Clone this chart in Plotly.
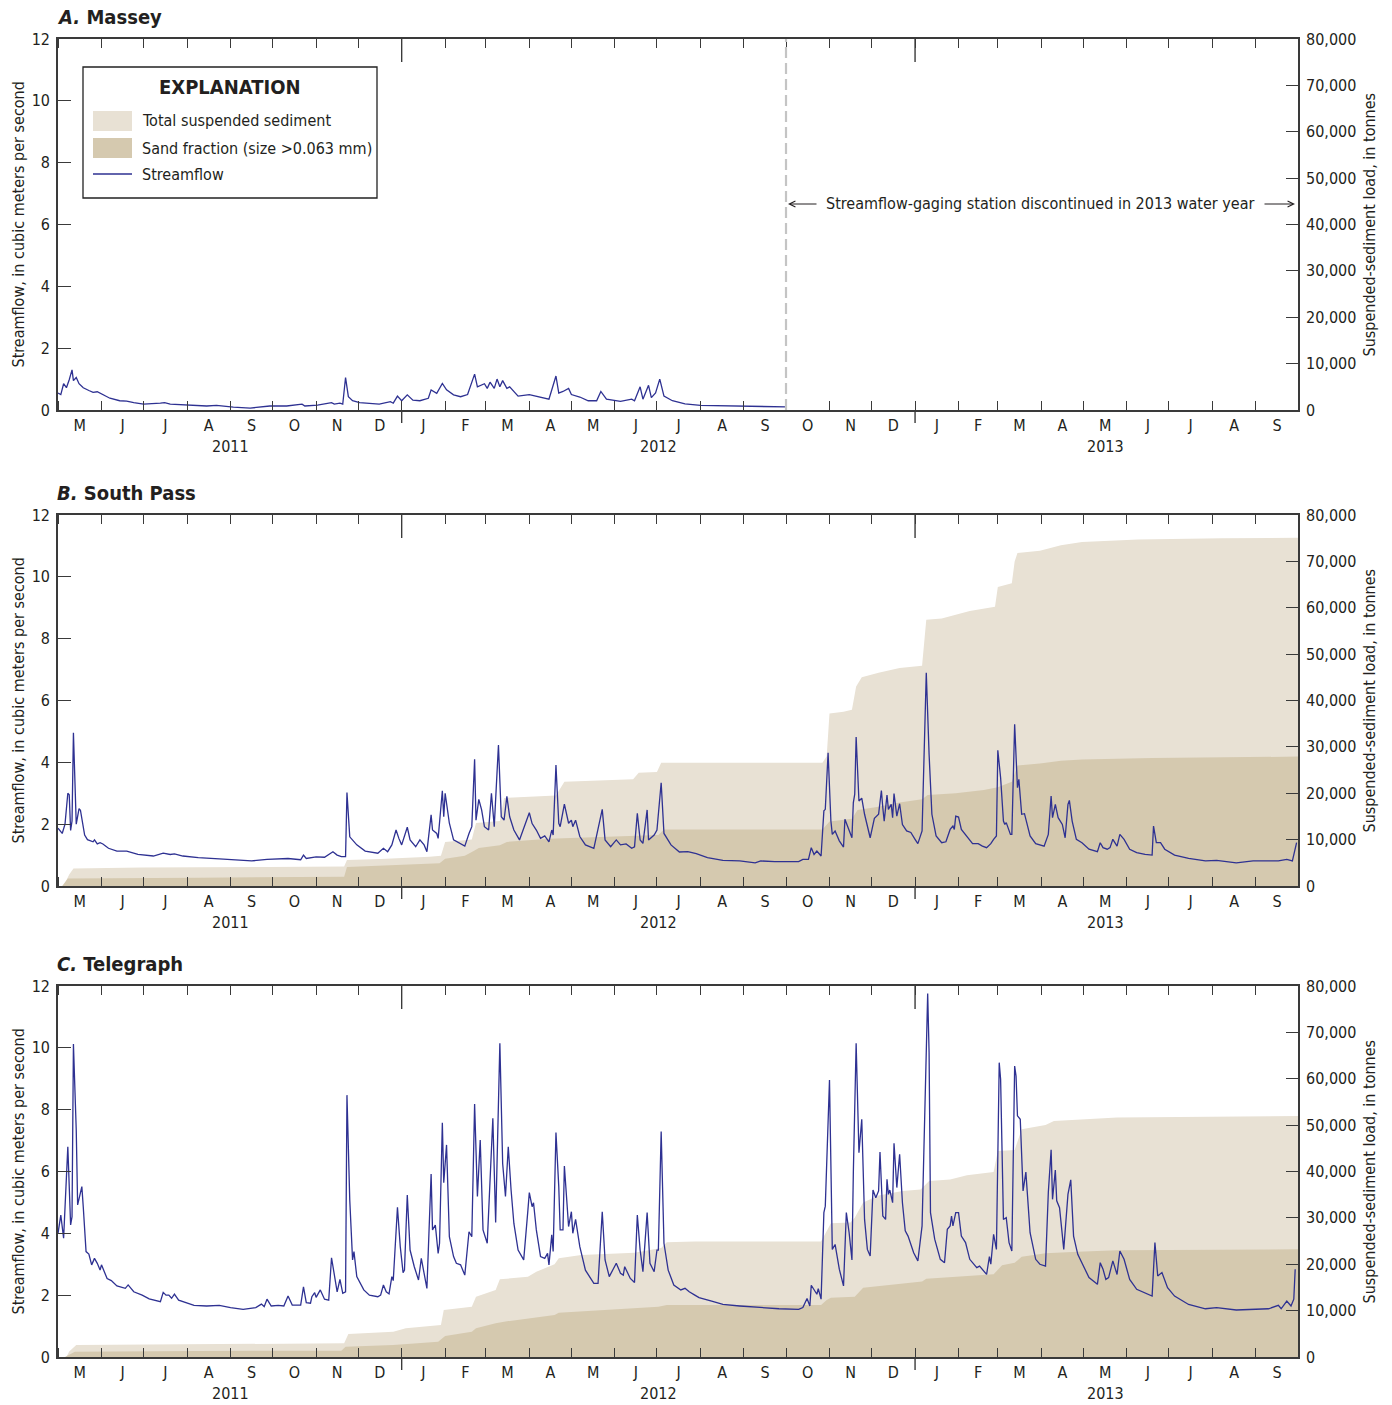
import pandas as pd
import plotly.graph_objects as go

# ---------------- data (days since 2011-05-01) ----------------
START = pd.Timestamp("2011-05-01")
X_RANGE = ["2011-05-01", "2013-10-01"]

month_letters = ["M", "J", "J", "A", "S", "O", "N", "D",
                 "J", "F", "M", "A", "M", "J", "J", "A", "S", "O", "N", "D",
                 "J", "F", "M", "A", "M", "J", "J", "A", "S"]
year_labels = ["2011", "2012", "2013"]
year_label_dates = ["2011-09-01", "2012-07-02", "2013-05-17"]
year_tick_dates = ["2012-01-01", "2013-01-01"]

flow_ticks = [0, 2, 4, 6, 8, 10, 12]
sed_ticks = [0, 10000, 20000, 30000, 40000, 50000, 60000, 70000, 80000]
sed_tick_text = ["0", "10,000", "20,000", "30,000", "40,000", "50,000", "60,000", "70,000", "80,000"]

# A. Massey streamflow (m3/s)
massey_day = [0, 2, 4, 6, 8, 10, 11, 13, 15, 18,
              22, 25, 28, 32, 37, 44, 49, 54, 61, 73,
              76, 80, 92, 106, 113, 125, 137, 146, 151, 163,
              174, 176, 185, 195, 197, 201, 203, 205, 207, 210,
              215, 229, 237, 239, 242, 245, 249, 253, 258, 264,
              266, 270, 274, 277, 282, 287, 292, 297, 299, 304,
              306, 308, 311, 313, 315, 317, 320, 322, 328, 336,
              344, 350, 355, 357, 360, 364, 366, 372, 378, 384,
              387, 391, 401, 409, 411, 415, 417, 421, 423, 426,
              429, 432, 438, 447, 458, 486, 519]
massey_q = [0.55, 0.50, 0.85, 0.72, 0.98, 1.30, 0.95, 1.05, 0.85, 0.72,
            0.63, 0.57, 0.59, 0.49, 0.38, 0.30, 0.29, 0.24, 0.19, 0.22,
            0.24, 0.19, 0.16, 0.13, 0.15, 0.09, 0.06, 0.11, 0.13, 0.13,
            0.19, 0.13, 0.16, 0.24, 0.19, 0.22, 0.19, 1.05, 0.43, 0.30,
            0.24, 0.19, 0.27, 0.22, 0.45, 0.30, 0.49, 0.32, 0.30, 0.38,
            0.65, 0.54, 0.86, 0.65, 0.49, 0.43, 0.50, 1.16, 0.75, 0.85,
            0.70, 0.90, 0.70, 1.00, 0.75, 0.95, 0.70, 0.75, 0.45, 0.50,
            0.42, 0.35, 1.10, 0.55, 0.60, 0.70, 0.50, 0.42, 0.30, 0.30,
            0.60, 0.35, 0.28, 0.35, 0.30, 0.75, 0.35, 0.80, 0.40, 0.55,
            1.00, 0.45, 0.30, 0.20, 0.15, 0.12, 0.10]

# B. South Pass streamflow
south_day = [0, 3, 5, 7, 8, 9, 10, 11, 13, 15,
             16, 19, 21, 25, 26, 28, 30, 32, 36, 42,
             49, 57, 68, 75, 80, 83, 89, 100, 115, 123,
             138, 149, 164, 173, 175, 177, 184, 190, 196, 199,
             202, 205, 206, 208, 210, 213, 219, 228, 232, 235,
             238, 241, 243, 245, 249, 251, 255, 258, 261, 263,
             266, 267, 270, 271, 274, 275, 276, 279, 282, 286,
             290, 293, 295, 297, 298, 300, 302, 304, 307, 309,
             311, 314, 316, 318, 320, 322, 325, 329, 334, 336,
             338, 341, 344, 347, 350, 352, 353, 355, 357, 358,
             361, 364, 366, 367, 369, 372, 376, 382, 388, 390,
             394, 398, 401, 405, 409, 411, 413, 415, 417, 420,
             421, 425, 427, 430, 432, 437, 443, 449, 455, 463,
             474, 486, 497, 501, 511, 528, 531, 535, 537, 539,
             541, 544, 546, 547, 549, 551, 552, 554, 557, 560,
             561, 564, 566, 567, 568, 569, 571, 573, 575, 579,
             582, 585, 587, 588, 589, 591, 592, 594, 595, 596,
             598, 600, 602, 605, 608, 611, 613, 616, 617, 619,
             621, 623, 626, 630, 633, 636, 638, 639, 640, 642,
             644, 647, 652, 656, 659, 662, 665, 667, 669, 670,
             672, 674, 675, 676, 679, 680, 682, 684, 685, 687,
             689, 693, 697, 703, 706, 708, 709, 711, 713, 716,
             718, 720, 721, 723, 726, 730, 735, 741, 743, 745,
             748, 750, 752, 755, 757, 760, 764, 769, 775, 780,
             781, 783, 786, 789, 796, 806, 818, 826, 840, 852,
             863, 870, 876, 880, 883]
south_q = [1.87, 1.70, 2.0, 3.0, 2.95, 1.8, 2.1, 4.96, 2.0, 2.5,
           2.45, 1.65, 1.5, 1.43, 1.49, 1.36, 1.4, 1.36, 1.22, 1.13,
           1.13, 1.02, 0.97, 1.06, 1.02, 1.04, 0.97, 0.92, 0.88, 0.86,
           0.81, 0.86, 0.89, 0.85, 1.0, 0.89, 0.94, 0.93, 1.11, 1.0,
           0.95, 0.95, 3.02, 1.59, 1.49, 1.33, 1.13, 1.06, 1.22, 1.11,
           1.33, 1.81, 1.54, 1.33, 1.9, 1.49, 1.27, 1.49, 1.33, 1.11,
           2.3, 1.81, 1.7, 1.54, 3.08, 2.24, 3.0, 2.03, 1.49, 1.38,
           1.29, 1.7, 1.92, 4.1, 2.13, 2.8, 2.46, 1.92, 1.81, 3.0,
           1.92, 4.56, 2.24, 2.13, 2.9, 2.24, 1.81, 1.49, 2.13, 2.37,
           2.02, 1.81, 1.54, 1.62, 1.43, 1.81, 1.65, 3.91, 2.03, 1.92,
           2.65, 2.03, 2.13, 1.92, 2.13, 1.6, 1.33, 1.22, 2.48, 1.49,
           1.27, 1.49, 1.33, 1.36, 1.22, 1.27, 2.35, 1.49, 1.38, 2.46,
           1.49, 1.65, 1.81, 3.34, 1.7, 1.33, 1.1, 1.11, 1.05, 0.92,
           0.83, 0.81, 0.75, 0.81, 0.79, 0.79, 0.86, 0.86, 1.24, 1.02,
           1.13, 0.97, 2.43, 2.48, 4.31, 2.1, 1.67, 1.78, 1.46, 1.26,
           2.16, 1.78, 1.56, 2.7, 2.97, 4.82, 2.75, 2.84, 2.32, 1.56,
           2.19, 2.32, 3.09, 2.53, 2.1, 2.94, 2.48, 2.64, 2.21, 2.99,
           2.26, 2.66, 1.99, 1.78, 1.73, 1.51, 1.37, 1.78, 3.83, 6.9,
           4.26, 2.32, 1.62, 1.4, 1.43, 1.83, 1.94, 1.83, 2.26, 2.23,
           1.83, 1.67, 1.37, 1.37, 1.29, 1.24, 1.37, 1.51, 1.62, 4.39,
           3.5, 2.1, 1.99, 2.05, 1.67, 1.67, 5.23, 3.18, 3.45, 2.32,
           2.34, 1.62, 1.37, 1.29, 1.67, 2.91, 2.21, 2.64, 2.21, 1.99,
           1.56, 2.64, 2.77, 2.1, 1.51, 1.4, 1.19, 1.11, 1.4, 1.24,
           1.19, 1.24, 1.51, 1.29, 1.67, 1.51, 1.19, 1.08, 1.02, 1.0,
           1.94, 1.4, 1.4, 1.19, 1.0, 0.89, 0.81, 0.83, 0.75, 0.81,
           0.81, 0.81, 0.86, 0.81, 1.4]

# B. South Pass cumulative suspended-sediment load (tonnes)
south_total_day = [4, 8, 11, 60, 150, 204, 206, 230, 265, 273,
                   276, 295, 298, 315, 318, 355, 361, 410, 414, 427,
                   430, 545, 548, 550, 560, 566, 569, 573, 585, 600,
                   616, 619, 630, 640, 650, 668, 670, 680, 682, 684,
                   700, 715, 730, 770, 830, 884]
south_total = [0, 2500, 3800, 4000, 4100, 4200, 5600, 5800, 6300, 6500,
               9500, 10000, 13600, 14000, 19000, 19500, 22500, 23000, 24400, 24600,
               26600, 26600, 28000, 37200, 37600, 38000, 43000, 45000, 46000, 47000,
               47500, 57400, 57700, 58500, 59300, 60200, 64500, 65300, 70000, 71800,
               72300, 73500, 74200, 74700, 75000, 75100]
south_sand_day = [3, 7, 100, 204, 206, 240, 272, 276, 290, 296,
                  300, 315, 320, 350, 385, 428, 432, 545, 550, 566,
                  570, 585, 600, 616, 620, 640, 660, 670, 680, 684,
                  700, 715, 730, 780, 884]
south_sand = [0, 1600, 1800, 2000, 4100, 4500, 4900, 5900, 6500, 7500,
              8200, 8800, 9500, 10200, 10600, 11000, 12200, 12200, 13900, 14500,
              16400, 17100, 18000, 18700, 19600, 20000, 20700, 21300, 22500, 26000,
              26400, 27000, 27300, 27600, 27900]

# C. Telegraph streamflow
tele_day = [0, 2, 4, 7, 9, 10, 11, 13, 14, 17,
            18, 19, 20, 22, 24, 26, 28, 30, 31, 35,
            38, 42, 48, 50, 54, 60, 65, 73, 75, 77,
            79, 81, 83, 86, 91, 97, 106, 115, 123, 132,
            141, 145, 147, 149, 152, 157, 161, 164, 167, 173,
            175, 177, 180, 181, 183, 184, 187, 190, 193, 195,
            199, 201, 203, 205, 206, 208, 210, 211, 213, 218,
            222, 228, 230, 232, 234, 236, 238, 239, 242, 244,
            246, 247, 249, 251, 254, 257, 259, 261, 263, 266,
            267, 269, 271, 272, 274, 275, 277, 279, 282, 284,
            287, 290, 293, 295, 297, 299, 301, 303, 306, 310,
            312, 315, 317, 319, 321, 323, 325, 328, 332, 335,
            336, 338, 339, 341, 344, 347, 349, 350, 352, 353,
            355, 357, 358, 360, 361, 364, 366, 367, 369, 372,
            376, 382, 385, 388, 390, 393, 398, 401, 403, 404,
            408, 411, 413, 415, 417, 420, 422, 425, 427, 428,
            430, 432, 435, 439, 444, 447, 450, 454, 457, 466,
            474, 486, 500, 514, 528, 531, 534, 536, 537, 539,
            541, 542, 544, 546, 547, 550, 552, 554, 557, 560,
            562, 564, 566, 567, 569, 571, 573, 575, 577, 579,
            581, 583, 585, 586, 588, 590, 591, 592, 593, 595,
            596, 598, 600, 602, 604, 606, 610, 613, 616, 620,
            621, 622, 625, 629, 632, 634, 636, 637, 638, 640,
            642, 644, 647, 650, 655, 657, 662, 664, 665, 667,
            669, 671, 672, 674, 676, 678, 680, 682, 683, 684,
            686, 688, 690, 693, 697, 700, 704, 706, 708, 709,
            711, 712, 714, 717, 720, 722, 724, 727, 731, 735,
            741, 743, 745, 747, 749, 752, 755, 757, 760, 764,
            769, 775, 780, 782, 784, 787, 791, 796, 806, 818,
            826, 840, 852, 863, 870, 872, 876, 879, 881, 882]
tele_q = [4.0, 4.59, 3.84, 6.8, 4.27, 4.54, 10.12, 7.34, 4.92, 5.51,
          4.86, 4.0, 3.41, 3.33, 2.98, 3.19, 3.03, 2.81, 2.98, 2.54,
          2.47, 2.3, 2.22, 2.33, 2.11, 2.0, 1.88, 1.79, 2.09, 2.0,
          2.0, 1.9, 2.03, 1.84, 1.76, 1.67, 1.65, 1.67, 1.6, 1.54,
          1.6, 1.71, 1.63, 1.87, 1.65, 1.67, 1.65, 1.97, 1.68, 1.68,
          2.27, 1.76, 1.74, 1.95, 2.08, 1.93, 2.17, 1.87, 1.84, 3.21,
          2.11, 2.51, 2.06, 2.11, 8.47, 5.08, 3.14, 3.41, 2.6, 2.17,
          2.0, 1.95, 2.0, 2.33, 2.11, 2.04, 2.6, 2.47, 4.84, 3.57,
          2.73, 2.81, 5.24, 3.46, 2.92, 2.49, 3.19, 2.71, 2.22, 5.92,
          4.11, 4.27, 3.35, 3.68, 7.58, 5.64, 6.86, 3.89, 3.25, 3.03,
          2.98, 2.65, 4.05, 3.89, 8.18, 5.19, 7.02, 4.11, 3.68, 7.72,
          4.35, 10.15, 6.26, 5.19, 6.8, 5.4, 4.32, 3.46, 3.14, 4.75,
          5.32, 4.86, 4.99, 4.11, 3.25, 3.19, 3.35, 2.98, 3.95, 3.41,
          7.26, 5.51, 4.11, 4.11, 6.18, 4.22, 4.7, 4.0, 4.45, 3.57,
          2.81, 2.38, 2.38, 4.7, 3.14, 2.6, 3.03, 2.71, 2.65, 2.92,
          2.54, 2.41, 4.59, 3.46, 2.76, 4.67, 3.03, 2.76, 3.46, 3.46,
          7.29, 3.68, 2.81, 2.33, 2.17, 2.22, 2.11, 2.0, 1.92, 1.81,
          1.7, 1.65, 1.6, 1.56, 1.54, 1.6, 1.89, 1.65, 2.32, 2.19,
          2.03, 2.21, 1.87, 4.67, 4.88, 8.96, 3.48, 3.64, 2.84, 2.3,
          4.67, 4.02, 3.14, 5.96, 10.15, 6.61, 7.69, 4.45, 3.48, 3.27,
          5.4, 5.15, 5.37, 6.63, 4.56, 4.45, 5.75, 5.26, 5.4, 4.99,
          6.91, 5.48, 6.56, 4.99, 4.08, 3.91, 3.37, 3.11, 4.24, 11.76,
          9.84, 4.67, 3.81, 3.16, 3.05, 4.13, 4.24, 4.56, 4.24, 4.67,
          4.67, 3.91, 3.7, 3.16, 2.89, 2.94, 2.67, 3.25, 3.0, 3.97,
          3.48, 9.52, 8.98, 4.45, 4.51, 3.7, 3.43, 9.41, 9.09, 7.8,
          7.69, 5.37, 5.98, 4.02, 3.16, 3.0, 2.94, 5.32, 6.7, 5.1,
          6.05, 5.05, 4.83, 3.48, 5.26, 5.73, 3.91, 3.32, 2.94, 2.57,
          2.35, 3.05, 2.84, 2.51, 2.57, 3.11, 2.67, 3.43, 3.16, 2.51,
          2.19, 2.08, 1.97, 3.7, 2.62, 2.73, 2.24, 1.97, 1.7, 1.56,
          1.6, 1.52, 1.54, 1.56, 1.67, 1.56, 1.81, 1.65, 1.87, 2.84]

# C. Telegraph cumulative suspended-sediment load (tonnes)
tele_total_day = [6, 8, 13, 100, 204, 207, 239, 248, 273, 275,
                  295, 298, 312, 315, 335, 341, 354, 357, 373, 411,
                  430, 434, 454, 544, 546, 551, 565, 568, 574, 585,
                  602, 615, 621, 636, 648, 667, 670, 682, 687, 704,
                  710, 755, 884]
tele_total = [0, 1200, 2590, 2800, 2950, 4960, 5460, 6180, 6900, 10140,
              10860, 13000, 14450, 16750, 17300, 18400, 20000, 21280, 22000, 22500,
              23500, 24730, 24880, 24880, 26000, 28830, 29000, 30000, 33290, 34800,
              35800, 36100, 37960, 38300, 39200, 39900, 44430, 44650, 49100, 50000,
              50900, 51620, 51980]
tele_sand_day = [5, 12, 100, 202, 205, 239, 271, 276, 295, 298,
                 312, 318, 354, 357, 428, 434, 544, 548, 551, 568,
                 574, 616, 619, 667, 673, 682, 687, 704, 727, 755,
                 884]
tele_sand = [0, 1150, 1300, 1370, 2230, 2590, 3300, 4530, 5460, 6180,
             7260, 7620, 9060, 9560, 10860, 11220, 11220, 12300, 12800, 13000,
             14950, 16300, 16900, 17830, 19770, 20300, 21640, 22360, 22720, 23000,
             23220]

# ---------------- styling ----------------
W, H = 1392, 1405
FONT = "Liberation Sans Narrow, DejaVu Sans Condensed, Arial Narrow, sans-serif"
TXT = "#231F20"
AX = "#3a3a3a"
LIGHT = "#E8E1D4"
DARK = "#D5C9AF"
FLOW = "#2E3192"


def to_dates(days):
    return [START + pd.Timedelta(days=int(d)) for d in days]


def px(x):
    return x / W


def py(y):
    return 1 - y / H


month_starts = pd.date_range(X_RANGE[0], X_RANGE[1], freq="MS")
month_mids = [a + (b - a) / 2 for a, b in zip(month_starts[:-1], month_starts[1:])]

X0, X1 = px(58), px(1298)
panel_pix = [(39, 410), (515, 886), (986, 1357)]
PLOT_H = 371.0

# axis names per panel: (xaxis key, x ref, flow axis key, flow ref, sed axis key, sed ref, base ref)
AXES = [
    ("xaxis", "x", "yaxis", "y", "yaxis2", "y2", "y"),       # A: flow axis is base (no sediment data)
    ("xaxis2", "x2", "yaxis4", "y4", "yaxis3", "y3", "y3"),  # B: sediment axis is base (fills beneath)
    ("xaxis3", "x3", "yaxis6", "y6", "yaxis5", "y5", "y5"),  # C
]

fig = go.Figure()

# Panel A traces (no sediment record at Massey: empty series keeps its load axis)
fig.add_trace(go.Scatter(x=to_dates(massey_day), y=massey_q, xaxis="x", yaxis="y",
                         mode="lines", line=dict(width=1.3, color=FLOW), showlegend=False))
fig.add_trace(go.Scatter(x=[], y=[], xaxis="x", yaxis="y2", mode="lines",
                         showlegend=False, hoverinfo="skip"))
# Panel B traces
fig.add_trace(go.Scatter(x=to_dates(south_total_day), y=south_total, xaxis="x2", yaxis="y3",
                         mode="lines", line=dict(width=0, color=LIGHT), fill="tozeroy",
                         fillcolor=LIGHT, showlegend=False, hoverinfo="skip"))
fig.add_trace(go.Scatter(x=to_dates(south_sand_day), y=south_sand, xaxis="x2", yaxis="y3",
                         mode="lines", line=dict(width=0, color=DARK), fill="tozeroy",
                         fillcolor=DARK, showlegend=False, hoverinfo="skip"))
fig.add_trace(go.Scatter(x=to_dates(south_day), y=south_q, xaxis="x2", yaxis="y4",
                         mode="lines", line=dict(width=1.3, color=FLOW), showlegend=False))
# Panel C traces
fig.add_trace(go.Scatter(x=to_dates(tele_total_day), y=tele_total, xaxis="x3", yaxis="y5",
                         mode="lines", line=dict(width=0, color=LIGHT), fill="tozeroy",
                         fillcolor=LIGHT, showlegend=False, hoverinfo="skip"))
fig.add_trace(go.Scatter(x=to_dates(tele_sand_day), y=tele_sand, xaxis="x3", yaxis="y5",
                         mode="lines", line=dict(width=0, color=DARK), fill="tozeroy",
                         fillcolor=DARK, showlegend=False, hoverinfo="skip"))
fig.add_trace(go.Scatter(x=to_dates(tele_day), y=tele_q, xaxis="x3", yaxis="y6",
                         mode="lines", line=dict(width=1.3, color=FLOW), showlegend=False))

layout = dict(width=W, height=H, margin=dict(l=0, r=0, t=0, b=0, autoexpand=False),
              paper_bgcolor="white", plot_bgcolor="rgba(0,0,0,0)",
              font=dict(family=FONT, size=16, color=TXT), showlegend=False)

shapes = []
annotations = []
titles = ["<b><i>A.</i> Massey</b>", "<b><i>B.</i> South Pass</b>", "<b><i>C.</i> Telegraph</b>"]

for k, (top, bot) in enumerate(panel_pix):
    xkey, xref, fkey, fref, skey, sref, base = AXES[k]
    dom = [py(bot), py(top)]
    common = dict(domain=dom, anchor=xref, showgrid=False, zeroline=False, automargin=False,
                  ticks="inside", tickwidth=1.4, tickcolor=AX, showline=True, linecolor=AX,
                  linewidth=1.6, tickfont=dict(size=16, color=TXT), ticklabelstandoff=3,
                  tickmode="array")
    layout[xkey] = dict(domain=[X0, X1], anchor=base, type="date", range=X_RANGE,
                        tickmode="array", tickvals=month_mids, ticktext=month_letters,
                        ticks="", showline=True, linecolor=AX, linewidth=1.6, mirror="ticks",
                        showgrid=False, zeroline=False, automargin=False, ticklabelstandoff=0,
                        tickfont=dict(size=16, color=TXT),
                        minor=dict(tickmode="array", tickvals=list(month_starts), ticks="inside",
                                   ticklen=9, tickwidth=1.4, tickcolor=AX, showgrid=False))
    fl = dict(common, side="left", range=[0, 12], tickvals=flow_ticks, ticklen=13)
    sd = dict(common, side="right", range=[0, 80000], tickvals=sed_ticks,
              ticktext=sed_tick_text, ticklen=12)
    if base == fref:
        sd["overlaying"] = fref
    else:
        fl["overlaying"] = sref
    layout[fkey] = fl
    layout[skey] = sd

    # long year ticks (Jan 1)
    for d in year_tick_dates:
        shapes.append(dict(type="line", xref=xref, yref=f"{base} domain", x0=d, x1=d,
                           y0=0, y1=-13 / PLOT_H, line=dict(color=AX, width=1.4)))
        shapes.append(dict(type="line", xref=xref, yref=f"{base} domain", x0=d, x1=d,
                           y0=1, y1=1 - 23 / PLOT_H, line=dict(color=AX, width=1.4)))
    # year labels
    for lab, d in zip(year_labels, year_label_dates):
        annotations.append(dict(text=lab, xref=xref, yref="paper", x=d, y=py(bot + 36),
                                showarrow=False, xanchor="center", yanchor="middle",
                                font=dict(size=16, color=TXT)))
    # panel titles
    annotations.append(dict(text=titles[k], xref="paper", yref="paper", x=px(55), y=py(top - 22),
                            showarrow=False, xanchor="left", yanchor="middle",
                            font=dict(size=20, color=TXT)))
    mid_y = (top + bot) / 2
    annotations.append(dict(text="Streamflow, in cubic meters per second", xref="paper", yref="paper",
                            x=px(18), y=py(mid_y), textangle=-90, showarrow=False,
                            xanchor="center", yanchor="middle", font=dict(size=16, color=TXT)))
    annotations.append(dict(text="Suspended-sediment load, in tonnes", xref="paper", yref="paper",
                            x=px(1369), y=py(mid_y), textangle=-90, showarrow=False,
                            xanchor="center", yanchor="middle", font=dict(size=16, color=TXT)))

# Massey: discontinued gage marker
shapes.append(dict(type="line", xref="x", yref="y domain", x0="2012-10-01", x1="2012-10-01",
                   y0=0, y1=1, line=dict(color="#C4C4C4", width=2.2, dash="11px,5px")))
annotations.append(dict(text="Streamflow-gaging station discontinued in 2013 water year",
                        xref="paper", yref="paper", x=px(1040), y=py(204), showarrow=False,
                        xanchor="center", yanchor="middle", font=dict(size=16, color=TXT)))
annotations.append(dict(text="", xref="paper", yref="paper", x=px(788), y=py(204),
                        ax=30, ay=0, showarrow=True, arrowhead=5, arrowsize=1.2, arrowwidth=1,
                        arrowcolor=TXT))
annotations.append(dict(text="", xref="paper", yref="paper", x=px(1295), y=py(204),
                        ax=-32, ay=0, showarrow=True, arrowhead=5, arrowsize=1.2, arrowwidth=1,
                        arrowcolor=TXT))

# Explanation box (drawn as a key)
shapes.append(dict(type="rect", xref="paper", yref="paper", x0=px(83), x1=px(377), y0=py(198), y1=py(67),
                   line=dict(color="#222", width=1.3), fillcolor="white"))
shapes.append(dict(type="rect", xref="paper", yref="paper", x0=px(93), x1=px(132), y0=py(131), y1=py(111),
                   line=dict(width=0), fillcolor=LIGHT))
shapes.append(dict(type="rect", xref="paper", yref="paper", x0=px(93), x1=px(132), y0=py(158), y1=py(138),
                   line=dict(width=0), fillcolor=DARK))
shapes.append(dict(type="line", xref="paper", yref="paper", x0=px(93), x1=px(132), y0=py(174), y1=py(174),
                   line=dict(color=FLOW, width=1.3)))
annotations.append(dict(text="<b>EXPLANATION</b>", xref="paper", yref="paper", x=px(230), y=py(87),
                        showarrow=False, xanchor="center", yanchor="middle", font=dict(size=20, color=TXT)))
for txt, yy in [("Total suspended sediment", 121), ("Sand fraction (size >0.063 mm)", 148),
                ("Streamflow", 174)]:
    annotations.append(dict(text=txt, xref="paper", yref="paper", x=px(140), y=py(yy),
                            showarrow=False, xanchor="left", yanchor="middle",
                            font=dict(size=16, color=TXT)))

layout["shapes"] = shapes
layout["annotations"] = annotations
fig.update_layout(**layout)
fig.write_html("out.html", config={"displayModeBar": False},
               post_script="document.body.style.margin='0';")
